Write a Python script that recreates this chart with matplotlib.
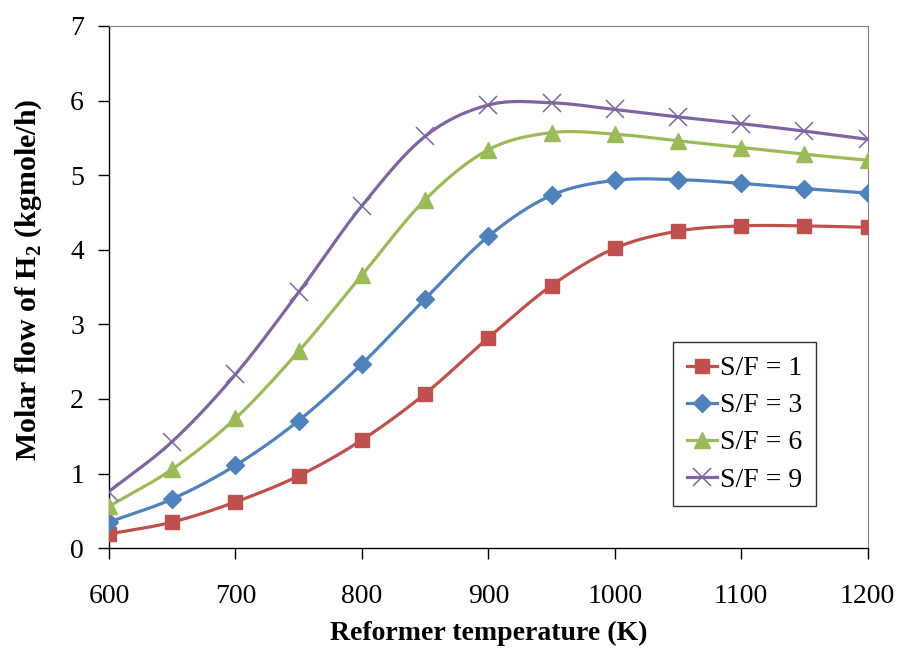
import matplotlib
matplotlib.use("Agg")
import matplotlib.pyplot as plt
import numpy as np

# ── data ─────────────────────────────────────────────────────────────
temps = [600, 650, 700, 750, 800, 850, 900, 950, 1000, 1050, 1100, 1150, 1200]
sf1 = [0.19, 0.35, 0.62, 0.97, 1.45, 2.07, 2.82, 3.52, 4.02, 4.25, 4.32, 4.32, 4.30]
sf3 = [0.35, 0.66, 1.11, 1.71, 2.47, 3.34, 4.18, 4.73, 4.93, 4.94, 4.89, 4.82, 4.76]
sf6 = [0.56, 1.06, 1.74, 2.64, 3.66, 4.67, 5.34, 5.57, 5.55, 5.46, 5.37, 5.28, 5.20]
sf9 = [0.76, 1.43, 2.33, 3.43, 4.59, 5.52, 5.94, 5.97, 5.88, 5.78, 5.69, 5.59, 5.48]
labels = ["S/F = 1", "S/F = 3", "S/F = 6", "S/F = 9"]

# ── style ────────────────────────────────────────────────────────────
RED, BLUE, GREEN, PURPLE = "#C0504D", "#4F81BD", "#9BBB59", "#8064A2"
FONT = "Liberation Serif"
plt.rcParams["font.family"] = FONT
plt.rcParams["mathtext.fontset"] = "custom"
plt.rcParams["mathtext.rm"] = FONT
plt.rcParams["mathtext.bf"] = FONT + ":bold"


def smooth(x, y, n=30):
    # Catmull-Rom through the points, like Excel's smoothed line
    x = np.asarray(x, float); y = np.asarray(y, float)
    px = np.concatenate([[2*x[0]-x[1]], x, [2*x[-1]-x[-2]]])
    py = np.concatenate([[2*y[0]-y[1]], y, [2*y[-1]-y[-2]]])
    t = np.linspace(0, 1, n)[:-1]
    xs, ys = [], []
    for i in range(1, len(px) - 2):
        for P, out in ((px, xs), (py, ys)):
            p0, p1, p2, p3 = P[i-1], P[i], P[i+1], P[i+2]
            out.extend(0.5*((2*p1) + (-p0+p2)*t + (2*p0-5*p1+4*p2-p3)*t**2
                            + (-p0+3*p1-3*p2+p3)*t**3))
    xs.append(x[-1]); ys.append(y[-1])
    return np.array(xs), np.array(ys)


fig = plt.figure(figsize=(9.01, 6.48), dpi=100)
ax = fig.add_axes([0.121, 0.154, 0.842, 0.806])

series = [
    (sf1, RED, "s", 10, {}),
    (sf3, BLUE, "D", 9.5, {}),
    (sf6, GREEN, "^", 12, {}),
    (sf9, PURPLE, "x", 13, {"markeredgewidth": 1.1}),
]
for (ys, c, m, ms, kw), lab in zip(series, labels):
    sx, sy = smooth(temps, ys)
    ax.plot(sx, sy, color=c, lw=2.3, zorder=2)
    ax.plot(temps, ys, ls="none", marker=m, ms=ms, color=c, mec=c, zorder=3, **kw)
    ax.plot([], [], color=c, lw=2.3, marker=m, ms=ms, mec=c, label=lab, **kw)

ax.set_xlim(600, 1200)
ax.set_ylim(0, 7)
ax.set_xticks(range(600, 1201, 100))
ax.set_yticks(range(0, 8))
ax.tick_params(direction="out", length=8, width=1, labelsize=20)
ax.tick_params(axis="x", pad=18)
ax.tick_params(axis="y", pad=10)

for s in ("top", "right"):
    ax.spines[s].set_color("#808080")
for s in ("left", "bottom"):
    ax.spines[s].set_color("black")
    ax.spines[s].set_linewidth(1.0)

ax.set_xlabel("Reformer temperature (K)", fontsize=20, fontweight="bold")
ax.set_ylabel(r"Molar flow of H$_\mathbf{2}$ (kgmole/h)", fontsize=21.5,
              fontweight="bold")
ax.xaxis.set_label_coords(0.5, -0.139)
ax.yaxis.set_label_coords(-0.086, 0.513)

leg = ax.legend(loc="upper left", bbox_to_anchor=(0.743, 0.395), borderaxespad=0,
                fontsize=20, frameon=True, fancybox=False, handlelength=1.1,
                handletextpad=0.1, labelspacing=0.42, borderpad=0.5)
leg.get_frame().set_edgecolor("black")
leg.get_frame().set_linewidth(1.0)

fig.savefig("out.png", dpi=100)
plt.close()
